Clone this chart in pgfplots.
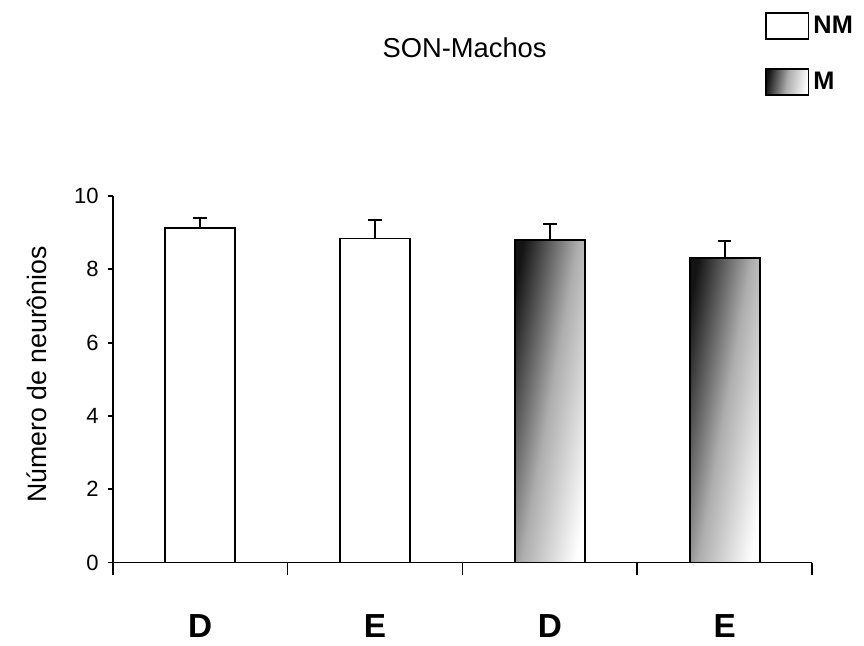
\documentclass[border=0pt]{standalone}
\usepackage{pgfplots}
\usepackage{pgfplotstable}
\pgfplotsset{compat=1.18}
\usepackage{fontspec}
\setmainfont{Liberation Sans}

\pgfplotstableread{
x y e
0 9.13 0.27
1 8.84 0.50
}\nmdata
\pgfplotstableread{
x y e
2 8.80 0.43
}\mDdata
\pgfplotstableread{
x y e
3 8.30 0.48
}\mEdata

\pgfplotsset{
  mbar/.style={ybar, bar width=0.4, bar shift=0pt, draw=black, line width=1.4pt,
    top color=black!92, bottom color=white, middle color=black!32, shading angle=80,
    error bars/.cd, y dir=plus, y explicit, error mark=-,
    error bar style={line width=1.4pt, black},
    error mark options={rotate=90, mark size=5pt, line width=1.4pt, black}},
}

\begin{document}
\begin{tikzpicture}
\useasboundingbox (-84.5pt,-62.6pt) rectangle (563.5pt,421.9pt);
\begin{axis}[
  at={(0pt,0pt)}, anchor=south west,
  scale only axis, width=524.7pt, height=274.9pt,
  xmin=-0.5, xmax=3.5, ymin=0, ymax=10,
  axis x line=bottom, axis y line=left,
  axis line style={-, line width=1.4pt, black},
  xtick={-0.5,0.5,1.5,2.5,3.5}, xticklabels={},
  ytick={0,2,4,6,8,10},
  tick align=outside,
  major tick length=3.5pt,
  xtick style={/pgfplots/major tick length=9.5pt},
  tick style={line width=1.4pt, black},
  extra x ticks={0,1,2,3}, extra x tick labels={D,E,D,E},
  extra x tick style={major tick length=0pt, tick style={draw=none},
    tick label style={anchor=center, yshift=-47.6pt, font=\bfseries\fontsize{25}{28}\selectfont}},
  yticklabel style={font=\fontsize{16.5}{18}\selectfont, xshift=-3.5pt},
  /pgf/number format/assume math mode=true,
  ylabel={Número de neurônios},
  ylabel style={at={(axis description cs:-0.108,0.513)}, anchor=center, font=\fontsize{20}{24}\selectfont},
  title={SON-Machos},
  title style={at={(axis description cs:0.503,1.382)}, anchor=center, font=\fontsize{20.5}{24}\selectfont},
  legend style={at={(axis description cs:0.932,1.502)}, anchor=north west, draw=none, fill=none,
    inner sep=0pt, row sep=21pt, font=\bfseries\fontsize{19}{21}\selectfont, nodes={inner sep=3pt}},
  legend cell align=left,
  legend image code/.code={\draw[#1, line width=1.4pt] (0pt,-9.75pt) rectangle (32pt,9.75pt);},
]
\addplot[ybar, bar width=0.4, bar shift=0pt, fill=white, draw=black, line width=1.4pt,
  error bars/.cd, y dir=plus, y explicit, error mark=-,
  error bar style={line width=1.4pt, black},
  error mark options={rotate=90, mark size=5pt, line width=1.4pt, black}]
  table[x=x, y=y, y error=e]{\nmdata};
\addlegendentry{NM}
\addplot[mbar] table[x=x, y=y, y error=e]{\mDdata};
\addlegendentry{M}
\addplot[forget plot, mbar] table[x=x, y=y, y error=e]{\mEdata};
\end{axis}
\end{tikzpicture}
\end{document}
